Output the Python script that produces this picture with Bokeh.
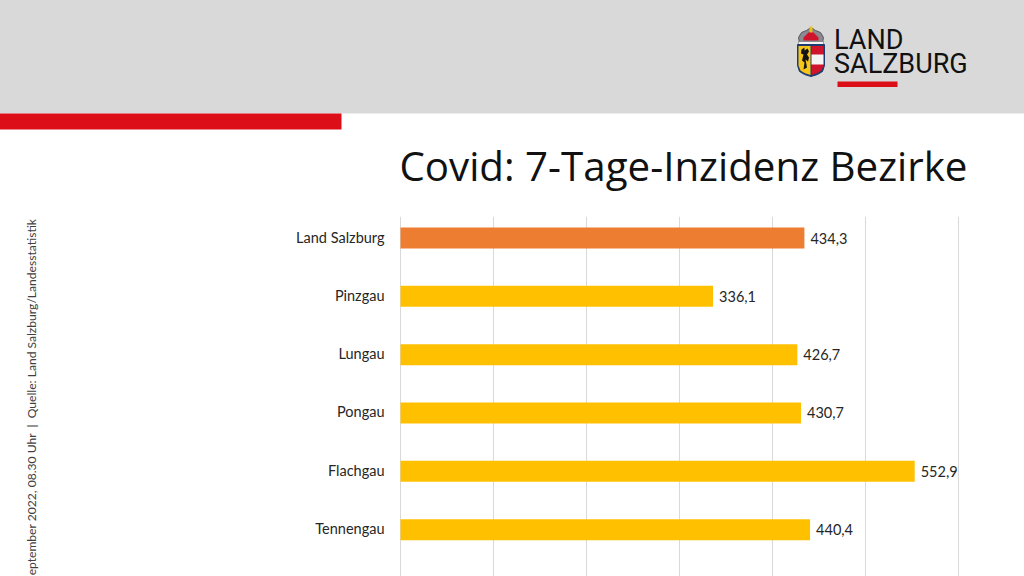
from bokeh.plotting import figure
from bokeh.embed import file_html
from bokeh.resources import INLINE
from bokeh.layouts import column
from bokeh.core.properties import value
from bokeh.models import Range1d, FixedTicker, Label, ColumnDataSource

categories = ["Land Salzburg", "Pinzgau", "Lungau", "Pongau", "Flachgau", "Tennengau"]
values = [434.3, 336.1, 426.7, 430.7, 552.9, 440.4]
value_labels = ["434,3", "336,1", "426,7", "430,7", "552,9", "440,4"]
bar_colors = ["#ED7D31", "#FFC000", "#FFC000", "#FFC000", "#FFC000", "#FFC000"]
x_ticks = [0, 100, 200, 300, 400, 500, 600]
title_text = "Covid: 7-Tage-Inzidenz Bezirke"
source_text = "September 2022, 08.30 Uhr \u00a0|\u00a0 Quelle: Land Salzburg/Landesstatistik"

W, H = 1024, 576
HEAD = 216
BLEED = 1  # the layout starts one pixel outside the page so the header reaches the edge

# ---------- header: drawn in page pixels ----------
h = figure(width=W + BLEED, height=HEAD + BLEED, output_backend="svg", toolbar_location=None,
           x_range=Range1d(-BLEED, W), y_range=Range1d(HEAD + BLEED, 0),
           min_border=0, border_fill_color="white", background_fill_color="white")
h.outline_line_color = None
h.axis.visible = False
h.grid.visible = False

h.quad(left=-5, right=W + 5, top=-5, bottom=114, fill_color="#D9D9D9", line_color=None)
h.quad(left=-5, right=341, top=114, bottom=130, fill_color="#DC0F19", line_color=None)
h.quad(left=837, right=897, top=82, bottom=87.5, fill_color="#DC0F19", line_color=None)

BASE_SHIFT = 0.38  # em: how far this text baseline lands below the anchor in the svg output
for txt, base in [("LAND", 51), ("SALZBURG", 75)]:
    h.add_layout(Label(x=833.5, y=base - 27 * BASE_SHIFT, text=txt, text_font="Roboto", text_font_size="27px",
                       text_color="#111111", text_baseline="alphabetic"))

# crest
def poly(xs, ys, c, line=None):
    h.patch(xs, ys, fill_color=c, line_color=line, line_width=1)

# crown
poly([798, 801, 806, 810.5, 815, 820, 823, 822, 799], [38, 33, 31, 28, 31, 33, 38, 43, 43], "#8A8A90", "#55555F")
poly([803, 807, 810.5, 814, 818, 818, 803], [38, 34, 31, 34, 38, 41, 41], "#D0142C")
poly([809, 812, 812, 809], [27, 27, 33, 33], "#E8C020")
h.quad(left=798, right=823, top=42, bottom=46, fill_color="#F2F2F2", line_color="#55555F", line_width=0.5)
# shield
shield_x = [797, 824, 824, 822, 817, 810.5, 804, 799, 797]
shield_y = [45, 45, 66, 72, 75, 77, 75, 72, 66]
poly(shield_x, shield_y, "#1F3A6E", "#1F3A6E")
poly([798, 810, 810, 804.5, 800, 798], [46.5, 46.5, 75.5, 73.8, 71, 66], "#F5C518")
poly([811, 823, 823, 821, 816.5, 811], [46.5, 46.5, 66, 71, 73.8, 75.5], "#D0142C")
h.quad(left=811, right=823, top=55, bottom=65, fill_color="#F4F4F4", line_color=None)
# lion
poly([801, 804, 804, 807, 808.5, 806.5, 808.5, 807.5, 805, 806.5, 803, 804, 801.5, 803, 800.5],
     [50, 48, 51, 49, 52, 55, 58, 62, 60, 68, 70, 63, 61, 55, 54], "#141414")

h.add_layout(Label(x=967, y=181 - 40.3 * BASE_SHIFT, text=title_text, text_align="right", text_baseline="alphabetic",
                   text_font="Open Sans", text_font_size="40.3px", text_color="#111111"))

# ---------- chart ----------
rows = list(range(len(categories)))
y_px = 58.33
y_top = (HEAD + BLEED - 238.5) / y_px
y_bot = (H + BLEED - 238.5) / y_px
x_px = 0.93  # pixels per unit
x_start = (-BLEED - 400) / x_px
x_end = (W - 400) / x_px

p = figure(width=W + BLEED, height=H - HEAD, output_backend="svg", toolbar_location=None,
           x_range=Range1d(x_start, x_end), y_range=Range1d(y_bot, y_top),
           min_border=0, background_fill_color="white", border_fill_color="white")
p.outline_line_color = None
p.axis.visible = False
p.xgrid.ticker = FixedTicker(ticks=x_ticks)
p.xgrid.grid_line_color = "#D9D9D9"
p.xgrid.grid_line_width = 1
p.ygrid.visible = False

src = ColumnDataSource(dict(y=rows, v=values, c=bar_colors, t=value_labels, cat=categories, z=[0] * len(rows)))
p.hbar(y="y", right="v", left="z", height=21 / y_px, fill_color="c", line_color=None, source=src)
p.text(x="z", y="y", text="cat", source=src, x_offset=-16, y_offset=-1, text_align="right",
       text_baseline="middle", text_font=value("Lato"), text_font_size="14.5px", text_color="#262626")
p.text(x="v", y="y", text="t", source=src, x_offset=6, y_offset=0, text_align="left",
       text_baseline="middle", text_font=value("Lato"), text_font_size="14.5px", text_color="#262626")

p.add_layout(Label(x=32, y=358, x_units="screen", y_units="screen", text=source_text,
                   angle=90, angle_units="deg", text_align="right", text_baseline="alphabetic",
                   text_font="Lato", text_font_size="12.1px", text_color="#404040"))

layout = column(h, p, spacing=0, margin=(-BLEED, 0, 0, -BLEED))
open("out.html", "w").write(file_html(layout, INLINE))
